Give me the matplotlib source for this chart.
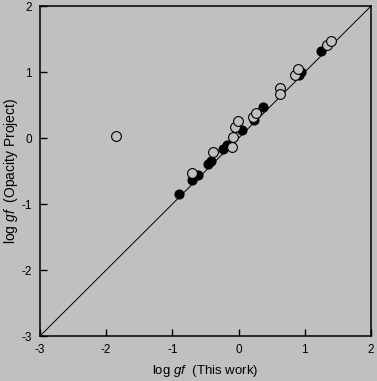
import matplotlib
matplotlib.use("Agg")
import matplotlib.pyplot as plt

plt.rcParams["font.family"] = "Liberation Sans"
plt.rcParams["mathtext.fontset"] = "custom"
plt.rcParams["mathtext.it"] = "Liberation Sans:italic"
plt.rcParams["mathtext.rm"] = "Liberation Sans"

# filled circles
x_fill = [-0.90, -0.71, -0.62, -0.46, -0.41, -0.23, -0.18, 0.05, 0.24, 0.37, 0.92, 0.95, 1.24]
y_fill = [-0.84, -0.64, -0.56, -0.39, -0.34, -0.16, -0.11, 0.12, 0.28, 0.47, 0.95, 1.00, 1.32]
# open circles
x_open = [-1.85, -0.71, -0.39, -0.10, -0.08, -0.05, -0.01, 0.22, 0.27, 0.62, 0.63, 0.85, 0.90, 1.33, 1.39]
y_open = [0.03, -0.53, -0.21, -0.14, 0.02, 0.17, 0.26, 0.32, 0.38, 0.76, 0.67, 0.95, 1.04, 1.41, 1.47]

ticks = [-3, -2, -1, 0, 1, 2]
bg = "#c0c0c0"

fig = plt.figure(figsize=(3.77, 3.81), dpi=100, facecolor=bg)
ax = fig.add_axes([0.106, 0.118, 0.878, 0.866], facecolor=bg)

ax.plot([-3, 2], [-3, 2], color="black", lw=0.7)
ax.scatter(x_fill, y_fill, s=42, facecolor="black", edgecolor="black", lw=0.8, zorder=3)
ax.scatter(x_open, y_open, s=50, facecolor=bg, edgecolor="black", lw=0.8, zorder=4)

ax.set_xlim(-3, 2)
ax.set_ylim(-3, 2)
ax.set_xticks(ticks)
ax.set_yticks(ticks)
ax.set_xticklabels([str(t) for t in ticks])
ax.set_yticklabels([str(t) for t in ticks])
ax.tick_params(direction="in", length=5, width=1, labelsize=8.5, pad=6)
for s in ax.spines.values():
    s.set_linewidth(1.1)

ax.set_xlabel(r"log $gf$  (This work)", fontsize=9.5, labelpad=5)
ax.set_ylabel(r"log $gf$  (Opacity Project)", fontsize=10, labelpad=1)

fig.savefig("out.png", dpi=100, facecolor=bg)
